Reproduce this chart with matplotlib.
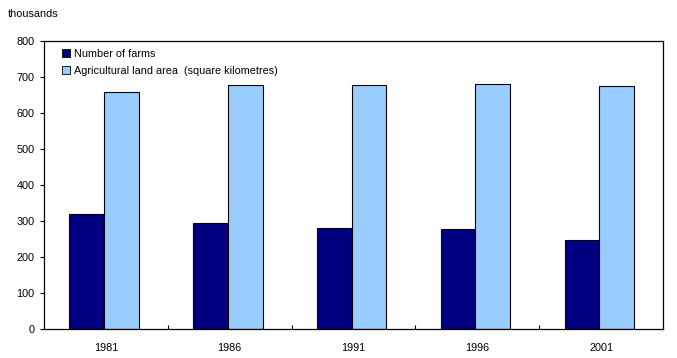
import matplotlib
matplotlib.use("Agg")
import matplotlib.pyplot as plt
import numpy as np
from matplotlib.patches import Patch

plt.rcParams['font.family'] = ['Liberation Sans', 'DejaVu Sans']

years = ["1981", "1986", "1991", "1996", "2001"]
farms = [319, 294, 280, 277, 246]
land_area = [658, 678, 678, 680, 675]
yticks = [0, 100, 200, 300, 400, 500, 600, 700, 800]

dark = "#000080"
light = "#99CCFF"
fs = 7.8

fig = plt.figure(figsize=(6.77, 3.58), dpi=100)
ax = fig.add_axes([44/677, 1-329/358, (663-44)/677, (329-41)/358])

x = np.arange(len(years))
w = 0.28
ax.bar(x - w/2 - 0.015, farms, width=w, color=dark, edgecolor="black", linewidth=0.8)
ax.bar(x + w/2 - 0.015, land_area, width=w, color=light, edgecolor="black", linewidth=0.8)

ax.set_xlim(-0.5, len(years) - 0.5)
ax.set_ylim(0, 800)
ax.set_yticks(yticks)
ax.set_yticklabels([str(v) for v in yticks], fontsize=fs)
ax.set_xticks(x)
ax.set_xticklabels(years, fontsize=fs)
ax.tick_params(axis='x', length=0, pad=10)
ax.set_xticks(np.arange(0.5, len(years) - 0.5, 1), minor=True)
ax.tick_params(axis='x', which='minor', direction='in', length=3, width=0.8)
ax.tick_params(axis='y', direction='out', length=3, width=0.8, pad=4)
for s in ax.spines.values():
    s.set_linewidth(0.9)

fig.text(8/677, 1-14/358, "thousands", fontsize=fs, va='center', ha='left')

handles = [Patch(facecolor=dark, edgecolor='black', linewidth=0.6),
           Patch(facecolor=light, edgecolor='black', linewidth=0.6)]
leg = ax.legend(handles, ["Number of farms", "Agricultural land area  (square kilometres)"],
                loc='upper left', bbox_to_anchor=(0.018, 0.995), frameon=False,
                fontsize=fs, handlelength=0.8, handleheight=0.8, handletextpad=0.3,
                labelspacing=0.65, borderaxespad=0.2)

fig.savefig("out.png", dpi=100)
